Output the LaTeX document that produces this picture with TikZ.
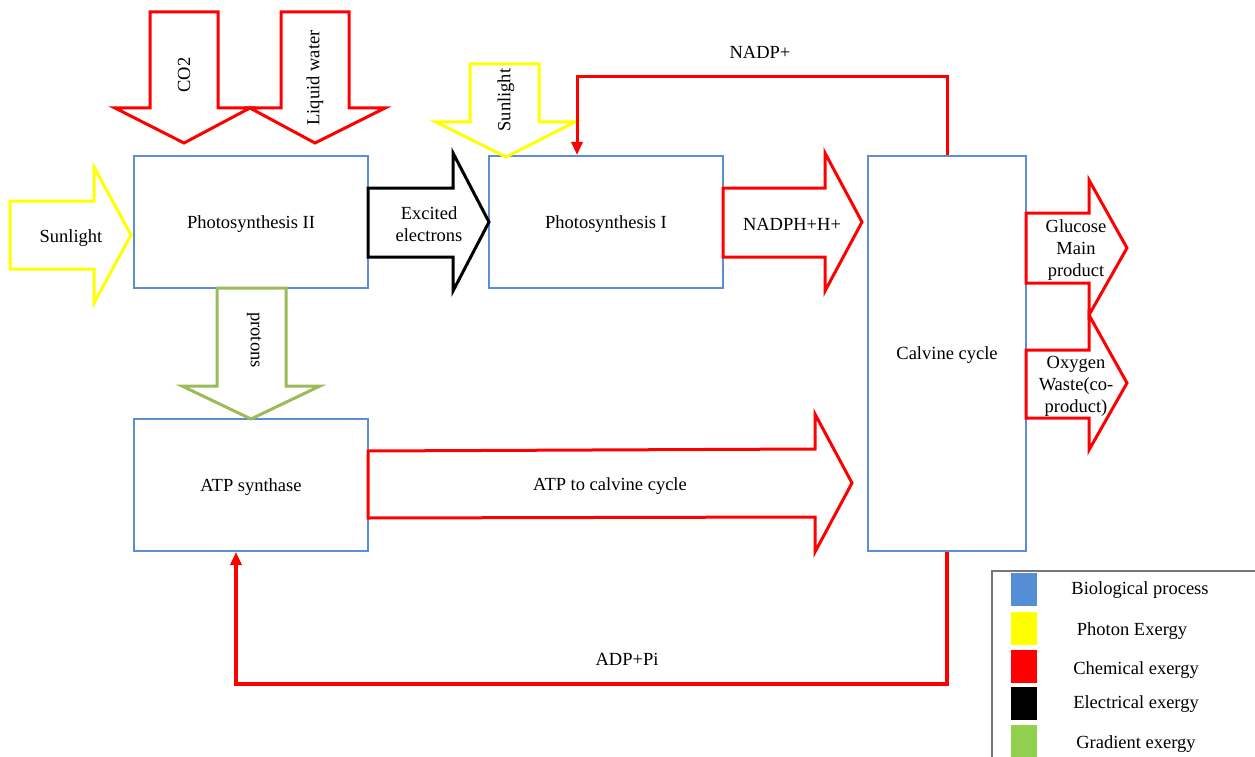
\documentclass[tikz,border=0pt]{standalone}
\usepackage{fontspec}
\setmainfont{Liberation Serif}
\usetikzlibrary{arrows.meta}
\definecolor{bioblue}{HTML}{5B8ED6}
\definecolor{legblue}{HTML}{558ED5}
\definecolor{gradgreen}{HTML}{9BBB59}
\definecolor{leggreen}{HTML}{92D050}
\definecolor{chemred}{HTML}{FF0000}
\definecolor{photyellow}{HTML}{FFFF00}
\definecolor{leggray}{HTML}{777777}
\tikzset{
  proc/.style={draw=bioblue, line width=2pt, fill=white, inner sep=0pt},
  chem/.style={draw=chemred, line width=3pt, line join=miter, fill=white},
  photon/.style={draw=photyellow, line width=3pt, line join=miter, fill=white},
  elec/.style={draw=black, line width=3pt, line join=miter, fill=white},
  grad/.style={draw=gradgreen, line width=3pt, line join=miter, fill=white},
  chemline/.style={draw=chemred, line width=3pt, -{Triangle[length=13pt,width=11pt]}},
  lbl/.style={font=\fontsize{18.5}{22}\selectfont, align=center, inner sep=0pt},
  hl/.style={lbl, yshift=-2pt},
  swatch/.style={minimum width=26pt, minimum height=33pt, inner sep=0pt, draw=none},
}
\begin{document}
\begin{tikzpicture}[x=1pt, y=-1pt]
\useasboundingbox (0,0) rectangle (1255,757);

% process boxes
\node[proc, minimum width=234pt, minimum height=132pt] (ps2) at (251,222) {};
\node[proc, minimum width=234pt, minimum height=132pt] (ps1) at (606,222) {};
\node[proc, minimum width=234pt, minimum height=132pt] (atp) at (251,485) {};
\node[proc, minimum width=158pt, minimum height=395pt] (calv) at (947,353.5) {};

% block arrows
\draw[chem] (150,12) -- (218,12) -- (218,108) -- (250,108) -- (184,143) -- (115,108) -- (150,108) -- cycle;
\draw[chem] (281,12) -- (349,12) -- (349,108) -- (385,108) -- (315,143) -- (250,108) -- (281,108) -- cycle;
\draw[photon] (470,64) -- (539,64) -- (539,122) -- (575,122) -- (506,157) -- (436,122) -- (470,122) -- cycle;
\draw[photon] (10,201) -- (94,201) -- (94,167) -- (131,235) -- (94,303) -- (94,269) -- (10,269) -- cycle;
\draw[elec] (368,188) -- (453,188) -- (453,153) -- (489,222) -- (453,291) -- (453,257) -- (368,257) -- cycle;
\draw[chem] (723,188) -- (825,188) -- (825,153) -- (862,222) -- (825,291) -- (825,257) -- (723,257) -- cycle;
\draw[chem] (1026,213) -- (1089,213) -- (1089,180) -- (1127,248) -- (1089,315) -- (1089,283) -- (1026,283) -- cycle;
\draw[chem] (1026,350) -- (1089,350) -- (1089,315) -- (1127,383) -- (1089,450) -- (1089,418) -- (1026,418) -- cycle;
\draw[grad] (217,288) -- (286,288) -- (286,386) -- (320,386) -- (251,419) -- (182,386) -- (217,386) -- cycle;
\draw[chem] (368,451) -- (815,449) -- (815,414) -- (852,483) -- (815,552) -- (815,517) -- (368,518) -- cycle;

% box labels
\node[hl] at (ps2) {Photosynthesis II};
\node[hl] at (ps1) {Photosynthesis I};
\node[hl] at (atp) {ATP synthase};
\node[hl] at (calv) {Calvine cycle};

% arrow labels
\node[lbl, rotate=90] (tco2) at (184,75) {CO2};
\node[lbl, rotate=90] (twat) at (315,78) {Liquid water};
\node[lbl, rotate=90] (tsun1) at (506,100) {Sunlight};
\node[hl] (tsun2) at (71,236) {Sunlight};
\node[hl] (texc) at (429,222) {Excited\\electrons};
\node[hl] (tnadph) at (792,222) {NADPH+H+};
\node[hl] (tglu) at (1076,248) {Glucose\\Main\\product};
\node[hl] (toxy) at (1076,384) {Oxygen\\Waste(co-\\product)};
\node[lbl, rotate=-90] (tprot) at (254,340) {protons};
\node[hl] (tatp) at (610,484) {ATP to calvine cycle};

% feedback connectors
\coordinate (nin) at ([xshift=89pt]ps1.north west);
\coordinate (ain) at ([xshift=103pt]atp.south west);
\draw[chemline] (calv.north) -- ++(0,-78) -| (nin);
\draw[chemline, line width=3.5pt] (calv.south) -- ++(0,132) -| (ain);
\node[hl] (tnadp) at (760,50) {NADP+};
\node[hl] (tadp) at (627,657) {ADP+Pi};

% legend
\draw[leggray, line width=1.2pt] (992,757) -- (992,571) -- (1255,571);
\node[swatch, fill=legblue] (s1) at (1024,589) {};
\node[swatch, fill=photyellow] (s2) at (1024,628.5) {};
\node[swatch, fill=chemred] (s3) at (1024,666.5) {};
\node[swatch, fill=black] (s4) at (1024,703) {};
\node[swatch, fill=leggreen] (s5) at (1024,741) {};
\node[hl] (l1) at (1140,588) {Biological process};
\node[hl] (l2) at (1132,629) {Photon Exergy};
\node[hl] (l3) at (1136,668) {Chemical exergy};
\node[hl] (l4) at (1136,702) {Electrical exergy};
\node[hl] (l5) at (1136,742) {Gradient exergy};
\end{tikzpicture}
\end{document}
